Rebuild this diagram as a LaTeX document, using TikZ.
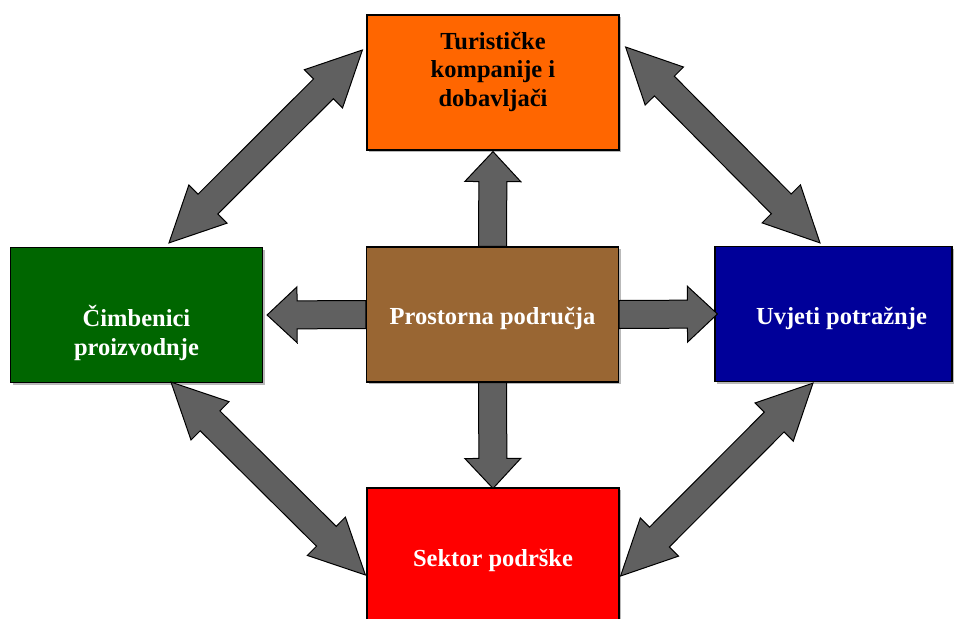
\documentclass[tikz,border=0pt]{standalone}
\usepackage{fontspec}
\setmainfont{Liberation Serif}
\usetikzlibrary{calc,shadows}

\definecolor{turorange}{HTML}{FF6600}
\definecolor{cimgreen}{HTML}{006600}
\definecolor{prosbrown}{HTML}{996633}
\definecolor{uvjblue}{HTML}{000099}
\definecolor{sekred}{HTML}{FF0000}
\definecolor{arrowgray}{HTML}{606060}

\tikzset{
  box/.style={draw=black, line width=1.2pt, minimum width=252pt, minimum height=135pt,
    inner sep=0pt, drop shadow={shadow xshift=2pt, shadow yshift=-2pt, fill=black!55}},
  boxtext/.style={align=center, text=white, font=\bfseries\fontsize{24.5}{28.5}\selectfont},
  % fat arrow, one head
  onearrow/.style={draw=black, line width=1pt, fill=arrowgray, line join=miter,
    to path={let \p1=(\tikztostart), \p2=(\tikztotarget),
      \n1={atan2(\y2-\y1,\x2-\x1)}, \n2={veclen(\x2-\x1,\y2-\y1)} in
      {[shift={(\p1)}, rotate=\n1]
        (0pt,-14pt) -- (\n2-30pt,-14pt) -- (\n2-30pt,-28pt) -- (\n2,0pt)
        -- (\n2-30pt,28pt) -- (\n2-30pt,14pt) -- (0pt,14pt) -- cycle}}},
  % fat arrow, heads at both ends
  twoarrow/.style={draw=black, line width=1pt, fill=arrowgray, line join=miter,
    to path={let \p1=(\tikztostart), \p2=(\tikztotarget),
      \n1={atan2(\y2-\y1,\x2-\x1)}, \n2={veclen(\x2-\x1,\y2-\y1)} in
      {[shift={(\p1)}, rotate=\n1]
        (0pt,0pt) -- (55pt,27pt) -- (55pt,14pt) -- (\n2-55pt,14pt) -- (\n2-55pt,27pt)
        -- (\n2,0pt) -- (\n2-55pt,-27pt) -- (\n2-55pt,-14pt) -- (55pt,-14pt)
        -- (55pt,-27pt) -- cycle}}}
}

\begin{document}
\begin{tikzpicture}[x=1pt,y=-1pt]
\useasboundingbox (0,0) rectangle (955,618);
\clip (0,0) rectangle (955,618);

% the five boxes
\node[box,fill=turorange] (tur) at (493,82.5) {};
\node[box,fill=cimgreen] (cim) at (136.5,315) {};
\node[box,fill=prosbrown] (pros) at (492.5,314.5) {};
\node[box,fill=uvjblue,minimum width=237pt] (uvj) at (833.5,314) {};
\node[box,fill=sekred] (sek) at (493,555.5) {};

% labels
\node[boxtext,text=black] (turtext) at (493,71.5) {Turističke\\kompanije i\\dobavljači};
\node[boxtext] (cimtext) at (136.5,333) {Čimbenici\\proizvodnje};
\node[boxtext] (prostext) at (492.5,318) {Prostorna područja};
\node[boxtext] (uvjtext) at (841.5,318) {Uvjeti potražnje};
\node[boxtext] (sektext) at (493,560) {Sektor podrške};

% from the middle outwards
\draw[onearrow] (pros.north) to ($(tur.south)+(0,1)$);
\draw[onearrow] (pros.south) to ($(sek.north)+(0,1)$);
\draw[onearrow] (pros.west) to ($(cim.east)+(4,0)$);
\draw[onearrow] (pros.east) to ($(uvj.west)+(3,0)$);

% around the ring
\draw[twoarrow] ($(cim.north)+(32.5,-4)$) to ($(tur.west)+(-4,-32.5)$);
\draw[twoarrow] ($(tur.east)+(6,-35.5)$) to ($(uvj.north)+(-13.5,-3)$);
\draw[twoarrow] ($(cim.south)+(34.5,-1)$) to ($(sek.west)+(-1,19.5)$);
\draw[twoarrow] ($(uvj.south)+(-20.5,1)$) to ($(sek.east)+(1,20.5)$);
\end{tikzpicture}
\end{document}
